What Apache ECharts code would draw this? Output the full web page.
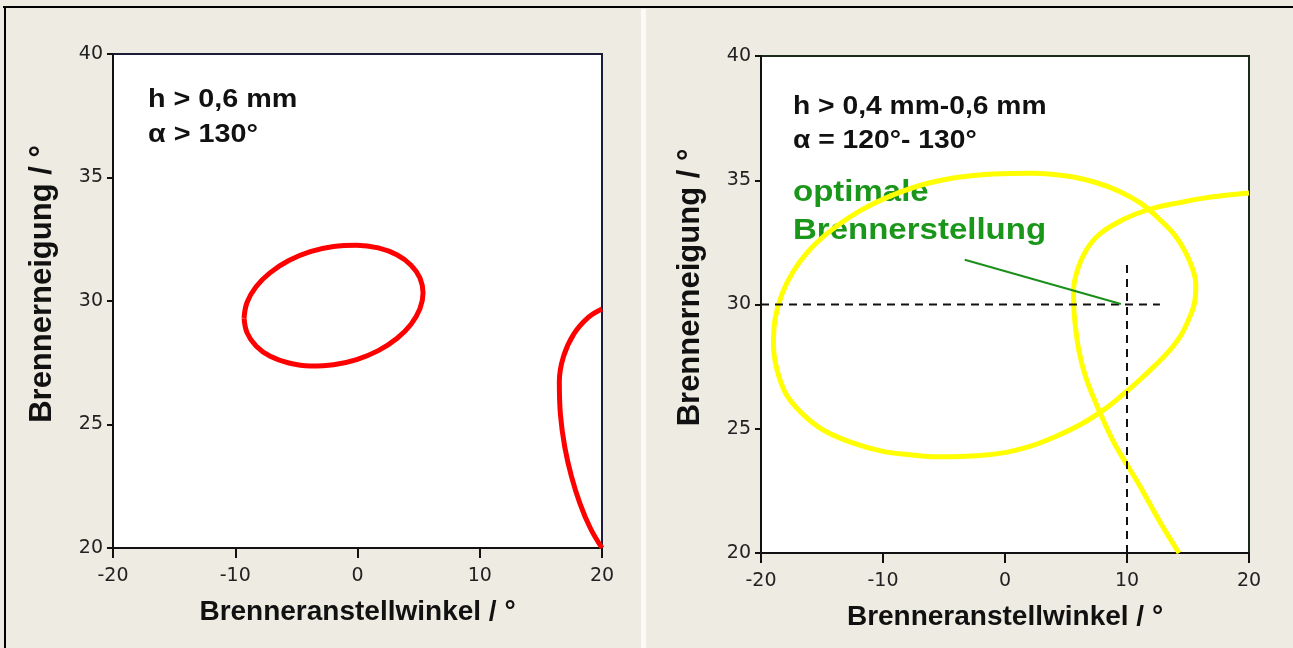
<!DOCTYPE html>
<html>
<head>
<meta charset="utf-8">
<script src="https://cdn.jsdelivr.net/npm/echarts@6/dist/echarts.min.js"></script>
<style>
  html, body { margin: 0; padding: 0; background: #eeebe2; }
  #chart { width: 1293px; height: 648px; }
</style>
</head>
<body>
<div id="chart"></div>
<script>
/* Achsen */
var xMin = -20, xMax = 20, xStep = 10;
var yMin = 20, yMax = 40, yStep = 5;
var xName = 'Brenneranstellwinkel / °';
var yName = 'Brennerneigung / °';

/* linkes Diagramm: h > 0,6 mm */
var leftLabel = ['h > 0,6 mm', 'α > 130°'];
var redLoop = [
    [-9.28, 29.31], [-9.03, 29.95], [-8.3, 30.58], [-7.14, 31.15], [-5.62, 31.64],
    [-3.86, 32.0], [-1.96, 32.21], [-0.07, 32.26], [1.7, 32.15], [3.22, 31.87],
    [4.38, 31.45], [5.11, 30.93], [5.36, 30.32], [5.11, 29.69], [4.38, 29.06],
    [3.22, 28.48], [1.7, 27.99], [-0.07, 27.63], [-1.96, 27.42], [-3.86, 27.37],
    [-5.62, 27.49], [-7.14, 27.76], [-8.3, 28.18], [-9.03, 28.71], [-9.28, 29.31]
];
var redEdge = [
    [20, 29.68], [18.88, 29.34], [17.7, 28.67], [16.85, 27.75], [16.51, 26.74],
    [16.6, 25.4], [16.95, 24.1], [17.5, 22.9], [18.2, 21.8], [19.05, 20.8], [20, 20]
];

/* rechtes Diagramm: h > 0,4 mm-0,6 mm */
var rightLabel = ['h > 0,4 mm-0,6 mm', 'α = 120°- 130°'];
var optLabel = ['optimale', 'Brennerstellung'];
var yellowLoop = [
    [-4.0, 35.11], [-1.0, 35.25], [2.2, 35.28], [5.2, 35.16], [7.5, 34.9],
    [9.3, 34.57], [11.2, 34.05], [12.7, 33.41], [13.9, 32.8], [14.8, 32.1],
    [15.4, 31.4], [15.64, 30.8], [15.55, 30.1], [15.1, 29.45], [14.4, 28.75],
    [13.4, 28.1], [12.2, 27.5], [11.0, 26.95], [9.6, 26.35], [8.2, 25.8],
    [6.3, 25.2], [4.2, 24.7], [2.1, 24.3], [0.1, 24.05], [-2.6, 23.9],
    [-5.3, 23.87], [-7.8, 23.95], [-10.1, 24.1], [-12.6, 24.45], [-14.9, 24.95],
    [-16.6, 25.6], [-17.95, 26.4], [-18.7, 27.4], [-18.98, 28.4], [-18.85, 29.4],
    [-18.3, 30.4], [-17.4, 31.3], [-16.2, 32.1], [-14.6, 32.85], [-12.8, 33.5],
    [-10.8, 34.05], [-8.7, 34.5], [-6.4, 34.87], [-4.0, 35.11]
];
var yellowCurve = [
    [20, 34.49], [18.1, 34.4], [16.15, 34.27], [14.3, 34.1], [12.4, 33.91],
    [10.6, 33.62], [9.0, 33.24], [7.8, 32.85], [6.94, 32.4], [6.3, 31.85],
    [5.85, 31.24], [5.62, 30.6], [5.64, 29.9], [5.8, 29.0], [6.09, 28.06],
    [6.6, 27.1], [7.28, 26.23], [8.1, 25.3], [8.99, 24.39], [10.0, 23.55],
    [11.03, 22.72], [11.9, 21.95], [12.74, 21.22], [13.5, 20.6], [14.27, 20]
];
var crossH = [[-20, 30], [12.7, 30]];
var crossV = [[10, 20], [10, 31.6]];
var pointer = [[-3.3, 31.8], [9.5, 30.02]];

var chart = echarts.init(document.getElementById('chart'));

function xAxisOf(gi) {
    return {
        gridIndex: gi, type: 'value', min: xMin, max: xMax, interval: xStep,
        name: xName, nameLocation: 'middle', nameGap: 50,
        nameTextStyle: { fontFamily: 'Liberation Sans', fontWeight: 'bold', fontSize: 28, color: '#111' },
        axisLine: { show: true, onZero: false, lineStyle: { color: '#111', width: 2 } },
        axisTick: { show: true, length: 10, lineStyle: { color: '#111', width: 2 } },
        axisLabel: { margin: 19, fontFamily: 'DejaVu Sans', fontSize: 19, color: '#222' },
        splitLine: { show: false }
    };
}
function yAxisOf(gi) {
    return {
        gridIndex: gi, type: 'value', min: yMin, max: yMax, interval: yStep,
        name: yName, nameLocation: 'middle', nameGap: 55, nameRotate: 90,
        nameTextStyle: {
            fontFamily: 'Liberation Sans', fontWeight: 'bold', fontSize: 31, color: '#111',
            padding: [0, 0, 0, 34]   // etwas nach oben schieben
        },
        axisLine: { show: true, onZero: false, lineStyle: { color: '#111', width: 2 } },
        axisTick: { show: true, length: 6, lineStyle: { color: '#111', width: 2 } },
        axisLabel: { margin: 10, fontFamily: 'DejaVu Sans', fontSize: 19, color: '#222' },
        splitLine: { show: false }
    };
}
function curve(gi, data, color, width, dash, smooth) {
    return {
        type: 'line', xAxisIndex: gi, yAxisIndex: gi, data: data,
        showSymbol: false, smooth: smooth, silent: true,
        lineStyle: { color: color, width: width, type: dash }
    };
}
function textLines(x, y, lines, size, color, gap, sx) {
    return lines.map(function (t, i) {
        return {
            type: 'text', x: x, y: y + i * gap, scaleX: sx, silent: true,
            style: {
                text: t, fill: color, verticalAlign: 'top',
                font: 'bold ' + size + 'px "Liberation Sans", Arial, sans-serif'
            }
        };
    });
}

var option = {
    backgroundColor: '#eeebe2',
    animation: false,
    grid: [
        { left: 113, top: 54, width: 489, height: 494, show: true, backgroundColor: '#fff', borderColor: '#1b1b3a', borderWidth: 2 },
        { left: 761, top: 56, width: 488, height: 497, show: true, backgroundColor: '#fff', borderColor: '#1b2b1b', borderWidth: 2 }
    ],
    xAxis: [xAxisOf(0), xAxisOf(1)],
    yAxis: [yAxisOf(0), yAxisOf(1)],
    series: [
        curve(0, redLoop, '#ff0000', 5, 'solid', 0.4),
        curve(0, redEdge, '#ff0000', 5, 'solid', 0.4),
        curve(1, yellowLoop, '#ffff00', 5, 'solid', 0.4),
        curve(1, yellowCurve, '#ffff00', 5, 'solid', 0.4),
        curve(1, crossH, '#111', 2, [8, 6], false),
        curve(1, crossV, '#111', 2, [8, 6], false),
        curve(1, pointer, '#1a8f1a', 2, 'solid', false)
    ],
    graphic: [
        /* Rahmen und Trennlinie */
        { type: 'rect', shape: { x: 3, y: 6, width: 1292, height: 2 }, style: { fill: '#000' }, silent: true },
        { type: 'rect', shape: { x: 4, y: 6, width: 2, height: 642 }, style: { fill: '#000' }, silent: true },
        { type: 'rect', shape: { x: 641, y: 9, width: 5, height: 639 }, style: { fill: '#fbfaf6' }, silent: true }
    ]
        .concat(textLines(148, 88, leftLabel, 25, '#111', 35, 1.15))
        .concat(textLines(793, 95, rightLabel, 25, '#111', 34, 1.13))
        .concat(textLines(793, 178, optLabel, 30, '#1a961a', 38, 1.1))
};
chart.setOption(option);
</script>
</body>
</html>
